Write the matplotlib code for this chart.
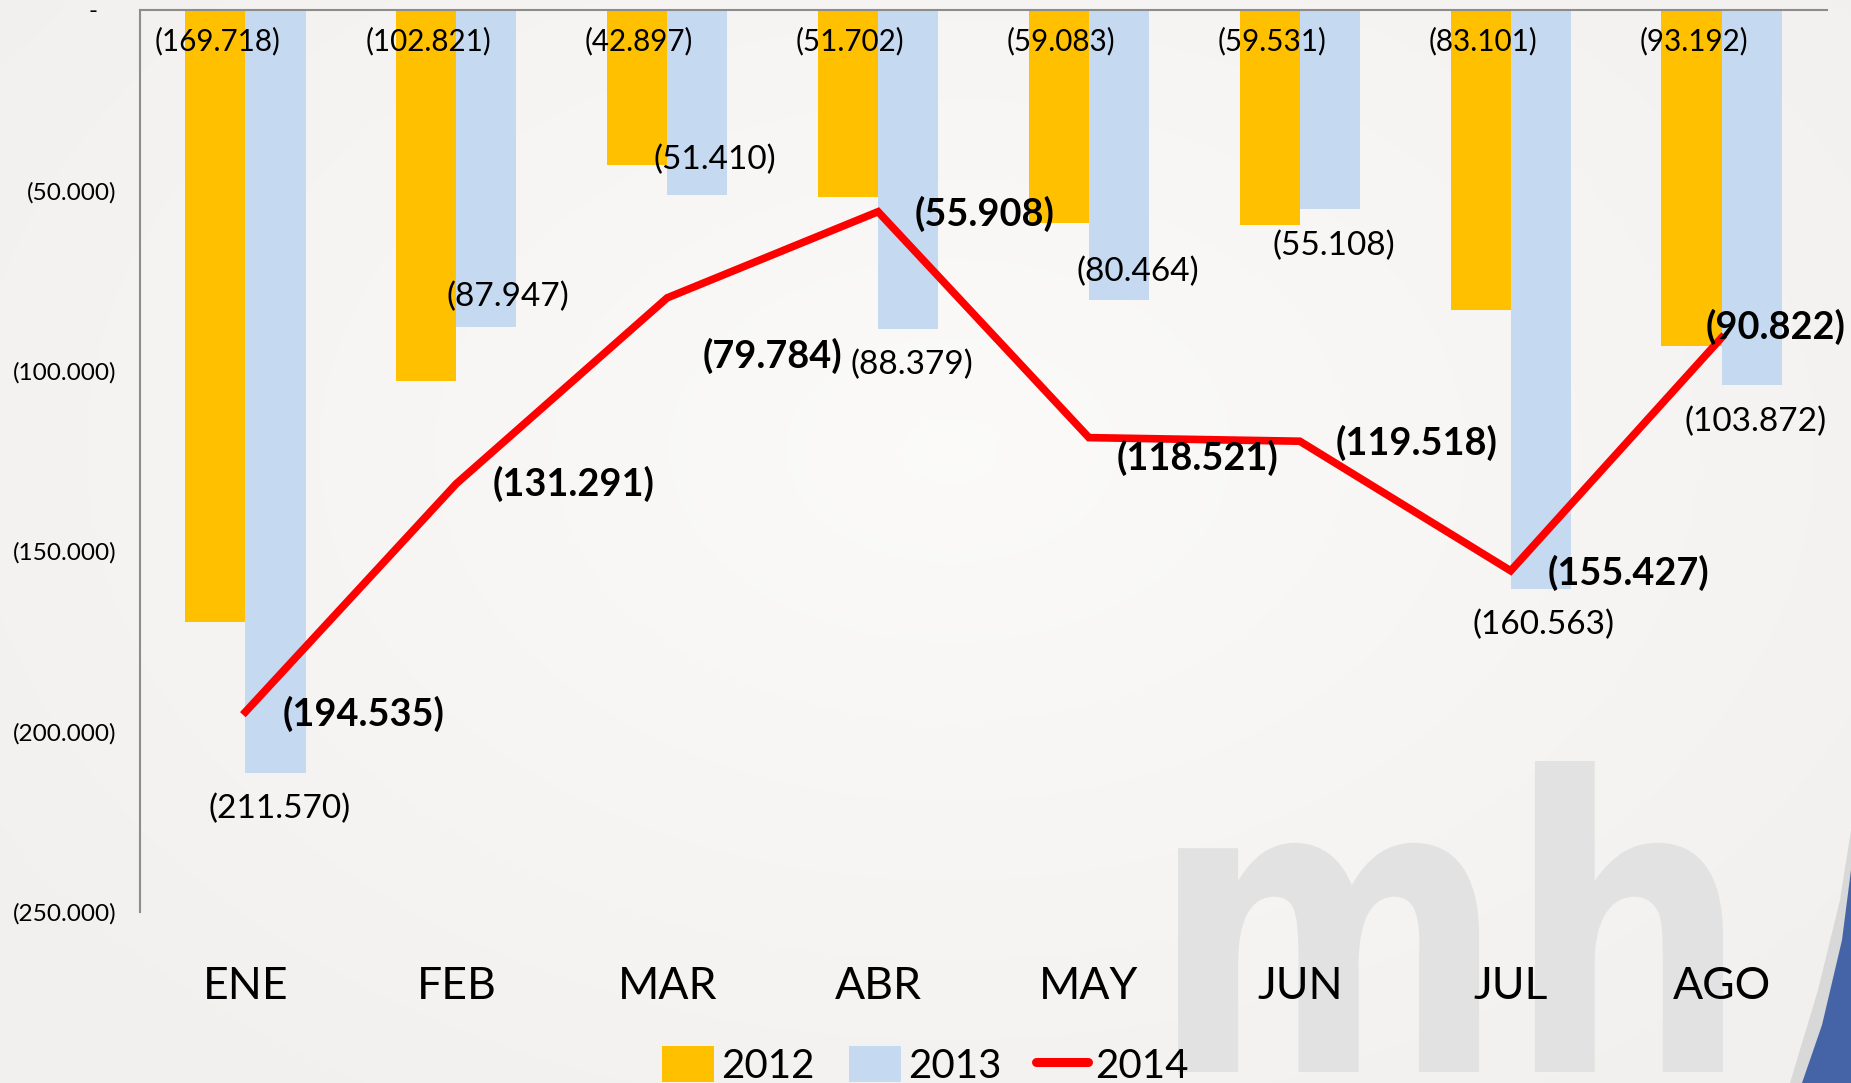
import matplotlib
matplotlib.use("Agg")
import matplotlib.pyplot as plt
import numpy as np
from matplotlib.patches import Polygon, PathPatch, Patch
from matplotlib.lines import Line2D
from matplotlib.textpath import TextPath
from matplotlib.font_manager import FontProperties
from matplotlib.transforms import IdentityTransform, Affine2D
from matplotlib.ticker import FuncFormatter

plt.rcParams['font.family'] = ['Lato', 'DejaVu Sans']

months = ['ENE', 'FEB', 'MAR', 'ABR', 'MAY', 'JUN', 'JUL', 'AGO']
v2012 = [-169718, -102821, -42897, -51702, -59083, -59531, -83101, -93192]
v2013 = [-211570, -87947, -51410, -88379, -80464, -55108, -160563, -103872]
v2014 = [-194535, -131291, -79784, -55908, -118521, -119518, -155427, -90822]
yticks = [0, -50000, -100000, -150000, -200000, -250000]

# label offsets (pixels) relative to anchor
off2013 = [(4, -36), (22, 30), (18, 36), (4, -36), (19, 28), (4, -37), (3, -36), (4, -37)]
off2014 = [(118, -2), (117, 0), (105, -58), (106, -2), (109, -20), (117, -2), (118, -2), (54, 11)]

C12 = '#FFC000'
C13 = '#C5D9F1'
C14 = '#FF0000'

W, H = 1851, 1083
fig = plt.figure(figsize=(W / 100, H / 100), dpi=100)
fig.patch.set_facecolor('#f3f2f0')

# soft radial background
yy, xx = np.mgrid[0:H, 0:W]
d = np.sqrt(((xx - 950) / 1100.0) ** 2 + ((yy - 450) / 750.0) ** 2)
d = np.clip(d, 0, 1)
top = np.array([0.985, 0.982, 0.975])
edge = np.array([0.950, 0.945, 0.937])
bg = top[None, None, :] * (1 - d[..., None]) + edge[None, None, :] * d[..., None]
fig.figimage(bg, xo=0, yo=0, origin='upper', zorder=-10)

# decorative watermark and corner swoosh
tp = TextPath((0, 0), 'mh', size=100, prop=FontProperties(family='DejaVu Sans', weight='bold'))
ext = tp.get_extents()
sx = (1723 - 1178) / ext.width
sy = (H - 761 - (H - 1072)) / ext.height
tr = Affine2D().translate(-ext.x0, -ext.y0).scale(sx, sy).translate(1178, H - 1072)
wm = PathPatch(tr.transform_path(tp), facecolor='#e2e2e2', edgecolor='none',
               transform=IdentityTransform(), zorder=-5)
fig.add_artist(wm)
gray = Polygon([(1851, H - 830), (1840, H - 900), (1818, H - 990), (1790, 0), (1851, 0)],
               closed=True, facecolor='#d8d8d8', edgecolor='none',
               transform=IdentityTransform(), zorder=-4)
blue = Polygon([(1851, H - 870), (1842, H - 940), (1822, H - 1025), (1802, 0), (1851, 0)],
               closed=True, facecolor='#4564a8', edgecolor='none',
               transform=IdentityTransform(), zorder=-3)
fig.add_artist(gray)
fig.add_artist(blue)

ax = fig.add_axes([140 / W, 1 - 912 / H, (1827 - 140) / W, (912 - 10) / H])
ax.set_facecolor('none')

x = np.arange(len(months))
bw = 0.285
ax.bar(x - bw / 2, v2012, width=bw, color=C12, zorder=2, label='2012')
ax.bar(x + bw / 2, v2013, width=bw, color=C13, zorder=2, label='2013')
ax.plot(x, v2014, color=C14, lw=5.5, zorder=3, solid_joinstyle='miter', label='2014')

def fmt(v):
    return '(' + f'{abs(v):,}'.replace(',', '.') + ')'

for i in range(len(months)):
    ax.annotate(fmt(v2012[i]), (x[i] - bw / 2, 0), xytext=(2, -31),
                textcoords='offset pixels', ha='center', va='center',
                fontsize=21.3, color='black', zorder=5)
    ax.annotate(fmt(v2013[i]), (x[i] + bw / 2, v2013[i]), xytext=off2013[i],
                textcoords='offset pixels', ha='center', va='center',
                fontsize=24, color='black', zorder=5)
    ax.annotate(fmt(v2014[i]), (x[i], v2014[i]), xytext=off2014[i],
                textcoords='offset pixels', ha='center', va='center',
                fontsize=27.3, fontweight='bold', color='black', zorder=6)

ax.set_xlim(-0.5, len(months) - 0.5)
ax.set_ylim(-250000, 0)
ax.set_yticks(yticks)
ax.yaxis.set_major_formatter(FuncFormatter(lambda v, p: '-   ' if v == 0 else fmt(int(v))))
ax.set_xticks(x)
ax.set_xticklabels(months)
ax.tick_params(axis='y', length=0, pad=17, labelsize=17.6)
ax.tick_params(axis='x', length=0, pad=39, labelsize=32)
for s in ['right', 'bottom']:
    ax.spines[s].set_visible(False)
for s in ['left', 'top']:
    ax.spines[s].set_color('#8c8c8c')
    ax.spines[s].set_linewidth(1.5)

handles = [Patch(facecolor=C12, label='2012'), Patch(facecolor=C13, label='2013'),
           Line2D([0], [0], color=C14, lw=6.5, solid_capstyle='round', label='2014')]
fig.legend(handles=handles, loc='upper left', bbox_to_anchor=(662 / W, 1 - 1046 / H),
           ncol=3, frameon=False, fontsize=29, handlelength=1.3, handleheight=1.0,
           handletextpad=0.17, columnspacing=0.85, borderaxespad=0, borderpad=0)

fig.savefig('out.png', dpi=100)
